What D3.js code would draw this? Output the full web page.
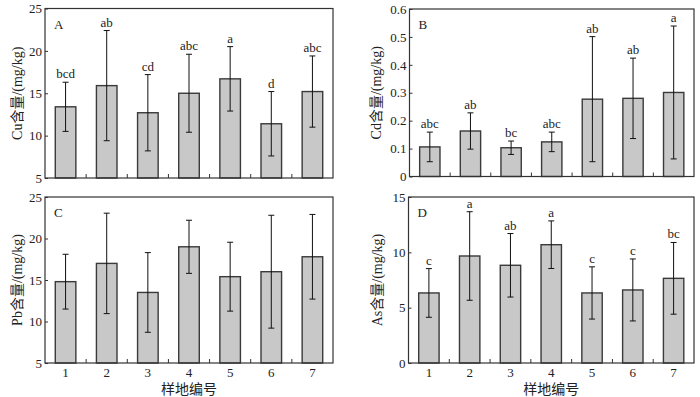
<!DOCTYPE html>
<meta charset="utf-8">
<style>
body { margin: 0; background: #fff; }
svg text { font-family: "Liberation Serif", "Noto Sans CJK SC", serif; fill: #222; }
.frame { fill: none; stroke: #333; stroke-width: 1.2; }
.bar { fill: #c8c8c8; stroke: #3a3a3a; stroke-width: 1.4; }
.err { stroke: #111; stroke-width: 1; }
</style>
<body>
<script src="https://d3js.org/d3.v7.min.js"></script>
<div id="draw"></div>
<script>

var sites = ["1", "2", "3", "4", "5", "6", "7"];

var cuMean = [13.4, 15.9, 12.7, 15.0, 16.7, 11.4, 15.2];
var cuSd   = [2.9, 6.5, 4.5, 4.6, 3.8, 3.8, 4.2];
var cuSig  = ["bcd", "ab", "cd", "abc", "a", "d", "abc"];

var cdMean = [0.106, 0.163, 0.103, 0.124, 0.277, 0.280, 0.301];
var cdSd   = [0.053, 0.065, 0.024, 0.035, 0.224, 0.144, 0.238];
var cdSig  = ["abc", "ab", "bc", "abc", "ab", "ab", "a"];

var pbMean = [14.8, 17.0, 13.5, 19.0, 15.4, 16.0, 17.8];
var pbSd   = [3.3, 6.05, 4.8, 3.2, 4.15, 6.8, 5.1];
var pbSig  = null;

var asMean = [6.33, 9.67, 8.83, 10.69, 6.33, 6.6, 7.65];
var asSd   = [2.2, 4.0, 2.87, 2.15, 2.36, 2.8, 3.24];
var asSig  = ["c", "a", "ab", "a", "c", "c", "bc"];

var cuTicks = [5, 10, 15, 20, 25];
var cdTicks = [0, 0.1, 0.2, 0.3, 0.4, 0.5, 0.6];
var pbTicks = [5, 10, 15, 20, 25];
var asTicks = [0, 5, 10, 15];

var svg = d3.select("#draw").append("svg")
    .attr("width", 700)
    .attr("height", 397);

function drawPanel(p) {
  var x = d3.scaleBand()
      .domain(sites)
      .range([p.left, p.right])
      .paddingInner(0.5)
      .paddingOuter(0.25);

  var y = d3.scaleLinear()
      .domain([p.ticks[0], p.ticks[p.ticks.length - 1]])
      .range([p.bottom, p.top]);

  var g = svg.append("g");

  // bars
  g.selectAll(".bar")
    .data(p.mean)
    .enter().append("rect")
    .attr("class", "bar")
    .attr("x", function(d, i) { return x(sites[i]); })
    .attr("width", x.bandwidth())
    .attr("y", function(d) { return y(d); })
    .attr("height", function(d) { return p.bottom - y(d); });

  // error bars
  var eb = g.selectAll(".eb")
    .data(p.mean)
    .enter().append("g")
    .attr("transform", function(d, i) {
      return "translate(" + (x(sites[i]) + x.bandwidth() / 2) + ",0)";
    });
  eb.append("line").attr("class", "err")
    .attr("x1", 0).attr("x2", 0)
    .attr("y1", function(d, i) { return y(d - p.sd[i]); })
    .attr("y2", function(d, i) { return y(d + p.sd[i]); });
  eb.append("line").attr("class", "err")
    .attr("x1", -3).attr("x2", 3)
    .attr("y1", function(d, i) { return y(d + p.sd[i]); })
    .attr("y2", function(d, i) { return y(d + p.sd[i]); });
  eb.append("line").attr("class", "err")
    .attr("x1", -3).attr("x2", 3)
    .attr("y1", function(d, i) { return y(d - p.sd[i]); })
    .attr("y2", function(d, i) { return y(d - p.sd[i]); });

  if (p.sig) {
    eb.append("text")
      .attr("y", function(d, i) { return y(d + p.sd[i]) - 4; })
      .attr("text-anchor", "middle")
      .style("font-size", "13px")
      .text(function(d, i) { return p.sig[i]; });
  }

  // y axis, ticks point inward
  var yAxis = d3.axisLeft(y)
      .tickValues(p.ticks)
      .tickSizeInner(-3)
      .tickSizeOuter(0)
      .tickPadding(3)
      .tickFormat(function(d) { return d3.format("")(+d.toFixed(2)); });
  var ya = g.append("g")
      .attr("transform", "translate(" + p.left + ",0)")
      .call(yAxis);
  ya.select(".domain").remove();
  ya.selectAll("line").attr("stroke", "#333");
  ya.selectAll("text").style("font-size", "13px").attr("fill", "#222");

  // x ticks between bars, inward
  var step = x.step();
  for (var k = 1; k < sites.length; k++) {
    g.append("line")
      .attr("x1", p.left + k * step).attr("x2", p.left + k * step)
      .attr("y1", p.bottom).attr("y2", p.bottom - 4)
      .attr("stroke", "#333");
  }

  if (p.xlabels) {
    var xa = g.append("g")
        .attr("transform", "translate(0," + p.bottom + ")")
        .call(d3.axisBottom(x).tickSize(0).tickPadding(5));
    xa.select(".domain").remove();
    xa.selectAll("text").style("font-size", "13px").attr("fill", "#222");

    g.append("text")
      .attr("x", (p.left + p.right) / 2)
      .attr("y", p.bottom + 31)
      .attr("text-anchor", "middle")
      .style("font-size", "14px")
      .text("样地编号");
  }

  // frame
  g.append("rect").attr("class", "frame")
    .attr("x", p.left).attr("y", p.top)
    .attr("width", p.right - p.left)
    .attr("height", p.bottom - p.top);

  // panel letter
  g.append("text")
    .attr("x", p.left + 9)
    .attr("y", p.top + 20)
    .style("font-size", "13px")
    .text(p.letter);

  // y label
  g.append("text")
    .attr("transform", "translate(" + p.ylabelX + "," + ((p.top + p.bottom) / 2) + ") rotate(-90)")
    .attr("text-anchor", "middle")
    .attr("dy", "0.35em")
    .style("font-size", "14px")
    .text(p.ylabel);
}

drawPanel({ letter: "A", left: 45, right: 333, top: 8.5, bottom: 178, ticks: cuTicks,
  mean: cuMean, sd: cuSd, sig: cuSig, ylabel: "Cu含量/(mg/kg)", ylabelX: 17, xlabels: false });
drawPanel({ letter: "B", left: 409.5, right: 694, top: 9, bottom: 176.5, ticks: cdTicks,
  mean: cdMean, sd: cdSd, sig: cdSig, ylabel: "Cd含量/(mg/kg)", ylabelX: 376, xlabels: false });
drawPanel({ letter: "C", left: 45, right: 333, top: 197, bottom: 363, ticks: pbTicks,
  mean: pbMean, sd: pbSd, sig: pbSig, ylabel: "Pb含量/(mg/kg)", ylabelX: 17, xlabels: true });
drawPanel({ letter: "D", left: 408.5, right: 694, top: 197, bottom: 363, ticks: asTicks,
  mean: asMean, sd: asSd, sig: asSig, ylabel: "As含量/(mg/kg)", ylabelX: 377, xlabels: true });

</script>
